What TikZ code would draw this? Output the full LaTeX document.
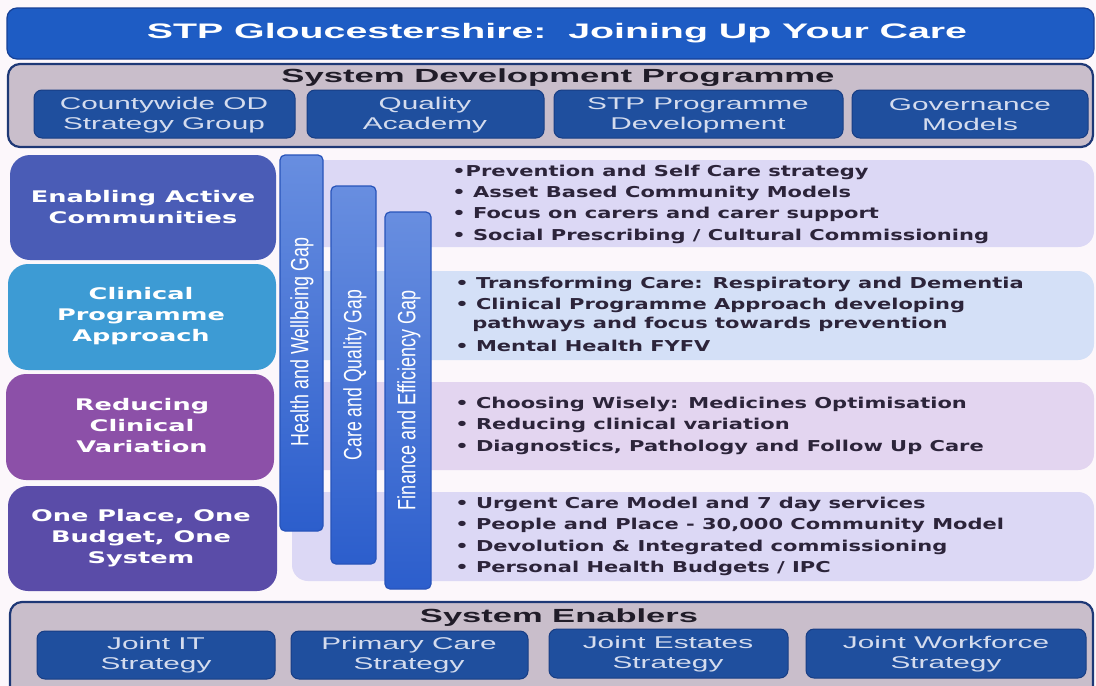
\documentclass[tikz,border=0pt]{standalone}
\usepackage{fontspec}
\setmainfont{Liberation Sans}
\newfontfamily\verdfont{DejaVu Sans}
\usetikzlibrary{fit}

\definecolor{pagebg}{RGB}{252,247,251}
\definecolor{titleblue}{RGB}{30,92,196}
\definecolor{titleedge}{RGB}{22,64,150}
\definecolor{greyband}{RGB}{201,190,203}
\definecolor{navyedge}{RGB}{30,56,118}
\definecolor{tileblue}{RGB}{31,79,158}
\definecolor{tileedge}{RGB}{24,62,132}
\definecolor{tiletext}{RGB}{212,220,238}
\definecolor{eacfill}{RGB}{74,92,182}
\definecolor{cpafill}{RGB}{61,155,212}
\definecolor{rcvfill}{RGB}{140,80,168}
\definecolor{opbfill}{RGB}{90,76,168}
\definecolor{panelA}{RGB}{220,216,245}
\definecolor{panelB}{RGB}{212,224,247}
\definecolor{panelC}{RGB}{227,213,240}
\definecolor{panelD}{RGB}{220,216,245}
\definecolor{barlight}{RGB}{104,142,224}
\definecolor{bardark}{RGB}{44,94,204}
\definecolor{baredge}{RGB}{40,84,186}
\definecolor{bullettext}{RGB}{44,36,58}
\definecolor{headtext}{RGB}{32,28,40}

\begin{document}
\begin{tikzpicture}[x=1pt,y=-1pt,
  area/.style={inner sep=0pt, outer sep=0pt},
  titlebar/.style={area, fill=titleblue, draw=titleedge, line width=1.2pt, rounded corners=10pt},
  band/.style={area, fill=greyband, draw=navyedge, line width=2.2pt, rounded corners=12pt},
  tile/.style={area, fill=tileblue, draw=tileedge, line width=1pt, rounded corners=8pt},
  theme/.style={area, fill=#1, rounded corners=20pt},
  panel/.style={area, fill=#1, rounded corners=16pt},
  gapbar/.style={area, top color=barlight, bottom color=bardark, draw=baredge, line width=1.2pt, rounded corners=5pt},
  titletext/.style={text=white, font=\bfseries\fontsize{21}{24}\selectfont, inner sep=0pt},
  headtext/.style={text=headtext, font=\bfseries\fontsize{19}{22}\selectfont, inner sep=0pt},
  tiletext/.style={text=tiletext, font=\fontsize{17}{20}\selectfont, align=center, inner sep=0pt, xscale=1.75, transform shape},
  themetext/.style={text=white, font=\verdfont\bfseries\fontsize{16}{21}\selectfont, align=center, inner sep=0pt, xscale=1.6, transform shape},
  gaptext/.style={text=white, font=\fontsize{25}{28}\selectfont, inner sep=0pt},
  bul/.style={text=bullettext, font=\verdfont\bfseries\fontsize{15}{18}\selectfont, anchor=west, inner sep=0pt, xscale=1.4, transform shape}
]
\useasboundingbox (0,0) rectangle (1096,686);
\fill[pagebg] (0,0) rectangle (1096,686);

% header bar
\node[titlebar, fit={(7,8) (1094,59)}] (title) {};
\node[titletext] (title-t) at (557,33) {\resizebox{820pt}{\height}{STP Gloucestershire:\ \ Joining Up Your Care}};

% system development programme
\node[band, fit={(8,64) (1093,147)}] (sdp) {};
\node[headtext] (sdp-t) at (558,78) {\resizebox{553pt}{\height}{System Development Programme}};
\node[tile, fit={(34,90) (295,138)}] (od) {};
\node[tile, fit={(307,90) (544,138)}] (qa) {};
\node[tile, fit={(554,90) (843,138)}] (pd) {};
\node[tile, fit={(852,90) (1088,138)}] (gm) {};
\node[tiletext] (od-t) at (164,115) {Countywide OD\\Strategy Group};
\node[tiletext] (qa-t) at (425,115) {Quality\\Academy};
\node[tiletext] (pd-t) at (698,115) {STP Programme\\Development};
\node[tiletext] (gm-t) at (970,115) {Governance\\Models};

% right-hand panels
\node[panel=panelA, fit={(285,160) (1094,247)}] (pa) {};
\node[panel=panelB, fit={(285,271) (1094,360)}] (pb) {};
\node[panel=panelC, fit={(285,382) (1094,470)}] (pc) {};
\node[panel=panelD, fit={(292,492) (1094,581)}] (pd4) {};

% themes
\node[theme=eacfill, fit={(10,155) (276,260)}] (eac) {};
\node[theme=cpafill, fit={(8,264) (276,370)}] (cpa) {};
\node[theme=rcvfill, fit={(6,374) (274,480)}] (rcv) {};
\node[theme=opbfill, fit={(8,486) (277,591)}] (opb) {};
\node[themetext] (eac-t) at (143,207) {Enabling Active\\Communities};
\node[themetext] (cpa-t) at (141,316) {Clinical\\Programme\\Approach};
\node[themetext] (rcv-t) at (142,426) {Reducing\\Clinical\\Variation};
\node[themetext] (opb-t) at (141,538) {One Place, One\\Budget, One\\System};

% gap bars
\node[gapbar, fit={(280,155) (323,531)}] (hw) {};
\node[gapbar, fit={(331,186) (376,564)}] (cq) {};
\node[gapbar, fit={(385,212) (431,589)}] (fe) {};
\node[gaptext, rotate=90] (hw-t) at (302,342) {\resizebox{208pt}{\height}{Health and Wellbeing Gap}};
\node[gaptext, rotate=90] (cq-t) at (355,375) {\resizebox{170pt}{\height}{Care and Quality Gap}};
\node[gaptext, rotate=90] (fe-t) at (409,400) {\resizebox{220pt}{\height}{Finance and Efficiency Gap}};

% bullet lists
\node[bul] (a1) at (452,172) {•Prevention and Self Care strategy};
\node[bul] (a2) at (452,193) {• Asset Based Community Models};
\node[bul] (a3) at (452,214) {• Focus on carers and carer support};
\node[bul] (a4) at (452,236) {• Social Prescribing / Cultural Commissioning};

\node[bul] (b1) at (455,284) {• Transforming Care: Respiratory and Dementia};
\node[bul] (b2) at (455,305) {• Clinical Programme Approach developing};
\node[bul] (b3) at (472,324) {pathways and focus towards prevention};
\node[bul] (b4) at (455,346) {• Mental Health FYFV};

\node[bul] (c1) at (455,404) {• Choosing Wisely: Medicines Optimisation};
\node[bul] (c2) at (455,425) {• Reducing clinical variation};
\node[bul] (c3) at (455,447) {• Diagnostics, Pathology and Follow Up Care};

\node[bul] (d1) at (455,504) {• Urgent Care Model and 7 day services};
\node[bul] (d2) at (455,525) {• People and Place - 30,000 Community Model};
\node[bul] (d3) at (455,547) {• Devolution \& Integrated commissioning};
\node[bul] (d4) at (455,568) {• Personal Health Budgets / IPC};

% system enablers
\node[band, fit={(10,602) (1093,700)}] (se) {};
\node[headtext] (se-t) at (559,618) {\resizebox{278pt}{\height}{System Enablers}};
\node[tile, fit={(37,631) (275,679)}] (it) {};
\node[tile, fit={(291,631) (528,679)}] (pc4) {};
\node[tile, fit={(549,629) (788,678)}] (es) {};
\node[tile, fit={(806,629) (1086,678)}] (wf) {};
\node[tiletext] (it-t) at (156,655) {Joint IT\\Strategy};
\node[tiletext] (pc4-t) at (409,655) {Primary Care\\Strategy};
\node[tiletext] (es-t) at (668,654) {Joint Estates\\Strategy};
\node[tiletext] (wf-t) at (946,654) {Joint Workforce\\Strategy};
\end{tikzpicture}
\end{document}
